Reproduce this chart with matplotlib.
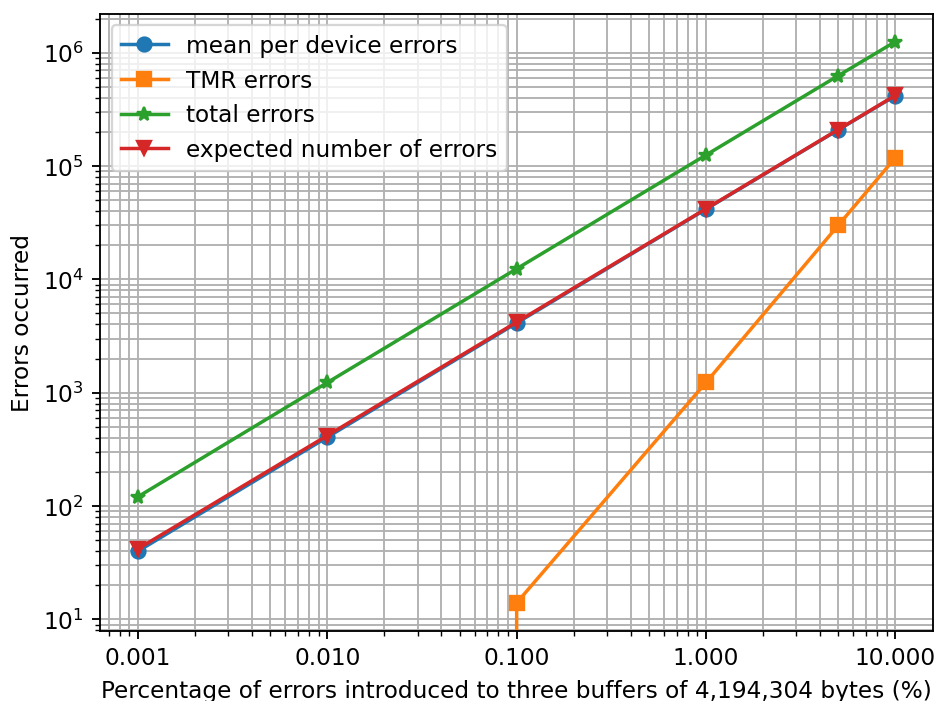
import matplotlib
matplotlib.use("Agg")
import matplotlib.pyplot as plt
from matplotlib.ticker import FormatStrFormatter

# percentage of errors introduced (%)
percentages = [0.001, 0.01, 0.1, 1.0, 5.0, 10.0]

# errors per series
mean_per_device = [40, 405, 4120, 41600, 208500, 416500]
tmr_errors = [0, 0, 14, 1230, 30000, 118000]
total_errors = [121, 1230, 12400, 125000, 627000, 1250000]
expected_errors = [42, 419, 4194, 41943, 209715, 419430]

fig, ax = plt.subplots(figsize=(5.61, 4.2), dpi=167)

ax.plot(percentages, mean_per_device, marker="o", label="mean per device errors")
ax.plot(percentages, tmr_errors, marker="s", label="TMR errors")
ax.plot(percentages, total_errors, marker="*", label="total errors")
ax.plot(percentages, expected_errors, marker="v", label="expected number of errors")

ax.set_xscale("log")
ax.set_yscale("log")
ax.xaxis.set_major_formatter(FormatStrFormatter("%.3f"))
ax.grid(True, which="both", linewidth=0.8)

ax.set_xlabel("Percentage of errors introduced to three buffers of 4,194,304 bytes (%)")
ax.set_ylabel("Errors occurred")
ax.legend(loc="upper left")

fig.subplots_adjust(left=0.107, right=0.996, top=0.980, bottom=0.100)
fig.savefig("out.png", dpi=167)
